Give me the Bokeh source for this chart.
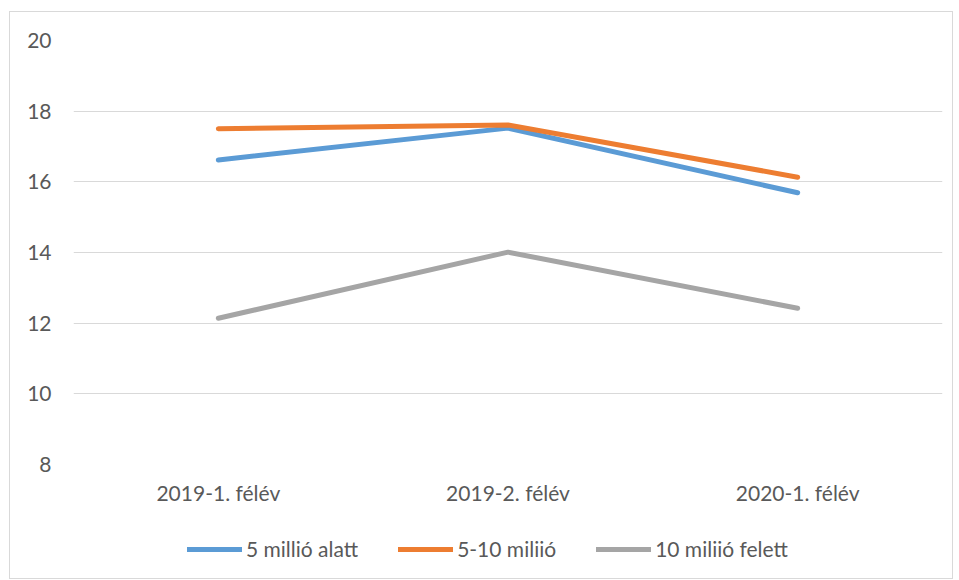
from bokeh.plotting import figure
from bokeh.layouts import column
from bokeh.models import FactorRange, Range1d, Legend, LegendItem, FixedTicker
from bokeh.embed import file_html
from bokeh.resources import INLINE

categories = ["2019-1. félév", "2019-2. félév", "2020-1. félév"]
series_names = ["5 millió alatt", "5-10 miliió", "10 miliió felett"]
under_5 = [16.62, 17.52, 15.69]
from_5_to_10 = [17.50, 17.61, 16.13]
over_10 = [12.14, 14.01, 12.42]
y_ticks = [8, 10, 12, 14, 16, 18, 20]

colors = ["#5B9BD5", "#ED7D31", "#A5A5A5"]
FONT = "Lato"
FS = "21px"
TXT = "#595959"
series = [under_5, from_5_to_10, over_10]

p = figure(width=942, height=506,
           output_backend="svg", toolbar_location=None,
           x_range=FactorRange(*categories, range_padding=0),
           y_range=Range1d(8, 20))
p.min_border_left = 63
p.min_border_right = 10
p.min_border_top = 28
p.min_border_bottom = 54
p.outline_line_color = None
p.background_fill_color = "white"
p.border_fill_color = "white"

p.xgrid.grid_line_color = None
p.ygrid.grid_line_color = "#d9d9d9"
p.ygrid.grid_line_width = 1
p.yaxis.ticker = FixedTicker(ticks=y_ticks)

for ax in (p.xaxis[0], p.yaxis[0]):
    ax.axis_line_color = None
    ax.major_tick_line_color = None
    ax.minor_tick_line_color = None
    ax.major_tick_out = 0
    ax.major_tick_in = 0
    ax.major_label_text_font = FONT
    ax.major_label_text_font_size = FS
    ax.major_label_text_color = TXT
p.yaxis.major_label_standoff = 22
p.xaxis.major_label_standoff = 15

for vals, c in zip(series, colors):
    p.line(x=categories, y=vals, line_color=c, line_width=5,
           line_cap="round", line_join="round")

# legend strip below the plot
lg = figure(width=942, height=60, output_backend="svg", toolbar_location=None,
            x_range=FactorRange(*categories, range_padding=0), y_range=Range1d(8, 20),
            x_axis_location=None, y_axis_location=None)
lg.min_border = 0
lg.outline_line_color = None
lg.grid.visible = False
lg_renderers = []
for vals, c in zip(series, colors):
    r = lg.line(x=categories, y=vals, line_color=c, line_width=5,
                line_cap="round", line_join="round", visible=False)
    lg_renderers.append(r)

legend = Legend(items=[LegendItem(label=n, renderers=[r]) for n, r in zip(series_names, lg_renderers)],
                orientation="horizontal", location=(114, 17))
legend.label_text_font = FONT
legend.label_text_font_size = FS
legend.label_text_color = TXT
legend.glyph_width = 55
legend.glyph_height = 20
legend.label_standoff = 4
legend.spacing = 40
legend.border_line_color = None
legend.background_fill_alpha = 0
legend.inactive_fill_alpha = 0
legend.padding = 0
legend.margin = 0
lg.add_layout(legend, "center")

layout = column(p, lg, spacing=0)
layout.styles = {"border": "1px solid #d9d9d9"}
layout.margin = (11, 0, 0, 9)

open("out.html", "w").write(file_html(layout, INLINE))
